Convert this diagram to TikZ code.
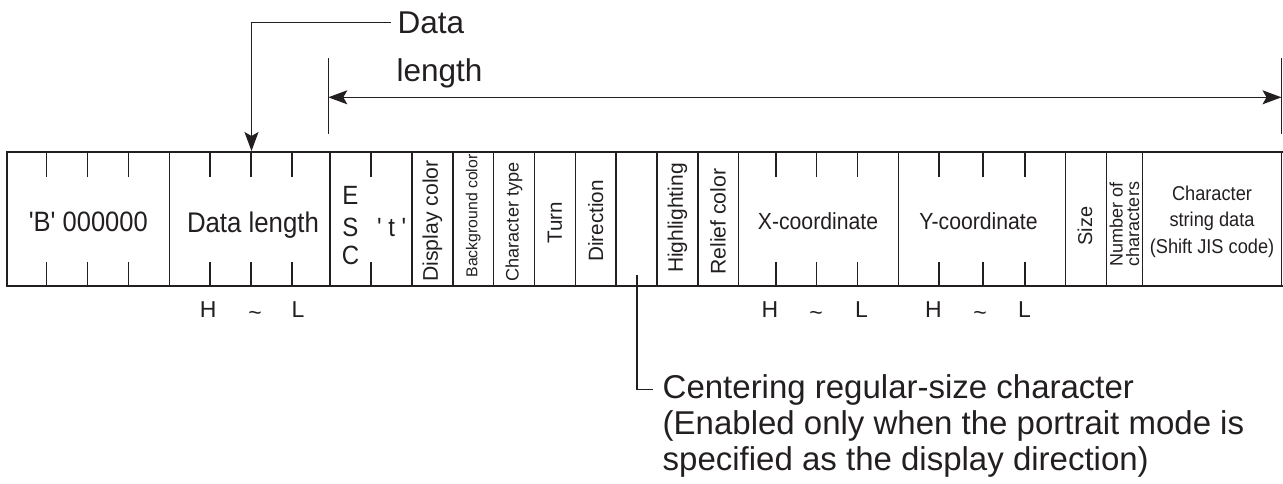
\documentclass[tikz,border=0pt]{standalone}
\usepackage{graphicx}
\usepackage{fontspec}
\setmainfont{Liberation Sans}[Ligatures=TeXOff]
\usetikzlibrary{arrows.meta}
\definecolor{ink}{RGB}{35,31,32}
\newcommand{\fsz}[2]{\fontsize{#1pt}{#2pt}\selectfont}
\newcommand{\tall}[1]{\scalebox{1}[1.1]{#1}}
\begin{document}
\begin{tikzpicture}[x=1pt,y=-1pt,line join=miter,
  thinline/.style={draw=ink,line width=1.25pt},
  frameline/.style={draw=ink,line width=2.5pt},
  txt/.style={text=ink,inner sep=0pt,outer sep=0pt},
  vtxt/.style={txt,rotate=90,anchor=center},
  tip/.tip={Stealth[length=19pt,width=14pt,inset=4pt]},
  arr/.style={thinline,-tip},
  dimarr/.style={thinline,tip-tip}
]
\useasboundingbox (0,0) rectangle (1283,483);

% ---- frame ----
\foreach \x in {7,169.3,330,412,453,493.5,534.3,575.3,616,657,698,738.3,898.3,1065.5,1106.3,1142.5,1281.8}
  \draw[thinline] (\x,152) -- (\x,286);
\foreach \x in {46.7,87.7,128.3,210,251,292,371,776,816.5,857.5,939,983,1025}{
  \draw[thinline] (\x,152) -- (\x,177);
  \draw[thinline] (\x,262) -- (\x,286);
}
\draw[frameline] (6,152) -- (1283,152);
\draw[frameline] (6,286) -- (1283,286);

% ---- horizontal field labels ----
\node[txt,anchor=base,font=\fsz{25.5}{30}] (bfield) at (88.3,231.5) {\tall{'B' 000000}};
\node[txt,anchor=base,font=\fsz{25.8}{30}] (dlfield) at (253,232) {\tall{Data length}};
\node[txt,anchor=base,font=\fsz{24}{28}] (escE) at (350.5,204) {\tall{E}};
\node[txt,anchor=base,font=\fsz{24}{28}] (escS) at (350.5,236.5) {\tall{S}};
\node[txt,anchor=base,font=\fsz{24}{28}] (escC) at (350.5,264.5) {\tall{C}};
\node[txt,anchor=base,font=\fsz{24}{28}] (tfield) at (391.7,236.5) {\tall{' t '}};
\node[txt,anchor=base,font=\fsz{21.2}{25}] (xfield) at (818,229.5) {\tall{X-coordinate}};
\node[txt,anchor=base,font=\fsz{21.2}{25}] (yfield) at (978.5,229.5) {\tall{Y-coordinate}};
\node[txt,anchor=base,font=\fsz{18.2}{22}] (cs1) at (1212,200) {\tall{Character}};
\node[txt,anchor=base,font=\fsz{18.2}{22}] (cs2) at (1212,226.5) {\tall{string data}};
\node[txt,anchor=base,font=\fsz{18.2}{22}] (cs3) at (1212,253) {\tall{(Shift JIS code)}};

% ---- rotated field labels ----
\node[vtxt,font=\fsz{21.2}{25}] (dispc) at (432.5,221) {Display color};
\node[vtxt,font=\fsz{15.8}{19}] (bgc) at (473.2,216) {Background color};
\node[vtxt,font=\fsz{18.1}{22}] (chtype) at (514,222) {Character type};
\node[vtxt,font=\fsz{20.6}{25}] (turn) at (554.8,223) {Turn};
\node[vtxt,font=\fsz{20.7}{25}] (dirn) at (595.6,221) {Direction};
\node[vtxt,font=\fsz{21}{25}] (hilite) at (677.5,218) {Highlighting};
\node[vtxt,font=\fsz{21.2}{25}] (relief) at (718.1,221.7) {Relief color};
\node[vtxt,font=\fsz{20}{24}] (sizef) at (1085,226) {Size};
\node[vtxt,font=\fsz{18}{16.5},align=center] (numc) at (1124.5,224) {Number of\\characters};

% ---- H ~ L ----
\tikzset{hl/.style={txt,font=\fsz{23}{27}}}
\node[hl,anchor=base] (h1) at (208.3,317) {H};
\node[hl,anchor=base,yshift=-3pt] (t1) at (255,317) {\textasciitilde};
\node[hl,anchor=base west] (l1) at (291.7,317) {L};
\node[hl,anchor=base] (h2) at (770,317) {H};
\node[hl,anchor=base,yshift=-3pt] (t2) at (816,317) {\textasciitilde};
\node[hl,anchor=base west] (l2) at (855,317) {L};
\node[hl,anchor=base] (h3) at (933.3,317) {H};
\node[hl,anchor=base,yshift=-3pt] (t3) at (980,317) {\textasciitilde};
\node[hl,anchor=base west] (l3) at (1018,317) {L};

% ---- Data length callout ----
\node[txt,anchor=base west,font=\fsz{31.5}{36}] (dataw) at (397.7,33) {Data};
\node[txt,anchor=base west,font=\fsz{31.5}{36}] (lengthw) at (396.7,81) {length};
\coordinate (dltop) at (251.5,151);
\draw[arr] ([xshift=-7pt]dataw.west) -| (dltop);

% ---- dimension line ----
\coordinate (dimL) at (328.3,97.3);
\coordinate (dimR) at (1281.5,97.3);
\draw[thinline] (328.3,58.3) -- (328.3,134);
\draw[thinline] (1281.5,58.3) -- (1281.5,134);
\draw[dimarr] (dimL) -- (dimR);

% ---- centering note ----
\node[txt,anchor=base west,font=\fsz{33}{36}] (cn1) at (662.7,398) {Centering regular-size character};
\node[txt,anchor=base west,font=\fsz{33}{36}] (cn2) at (662.7,434) {(Enabled only when the portrait mode is};
\node[txt,anchor=base west,font=\fsz{33}{36}] (cn3) at (662.7,470) {specified as the display direction)};
\coordinate (cntop) at (637,275);
\draw[thinline] (cntop) |- ([xshift=-10pt]cn1.west);
\end{tikzpicture}
\end{document}
